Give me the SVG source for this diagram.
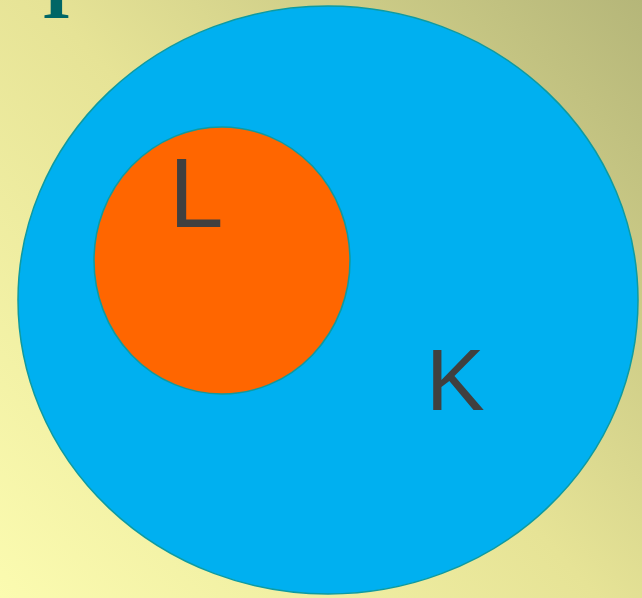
<svg xmlns="http://www.w3.org/2000/svg" width="642" height="598" viewBox="0 0 642 598">
  <defs>
    <linearGradient id="bg" gradientUnits="userSpaceOnUse" x1="0" y1="598" x2="642" y2="0">
      <stop offset="0" stop-color="#FBFBB0"/>
      <stop offset="0.5" stop-color="#E6E396"/>
      <stop offset="1" stop-color="#B5B679"/>
    </linearGradient>
    <style>
      .set { stroke: #0E9AA0; stroke-width: 1.5; }
      .lbl { font-family: "Liberation Sans", Arial, sans-serif; fill: #404040; }
    </style>
  </defs>
  <rect x="0" y="0" width="642" height="598" fill="url(#bg)"/>
  <text x="42" y="18" font-family="'Liberation Serif', 'Times New Roman', serif" font-weight="bold" font-size="74" fill="#006666">I</text>
  <g id="K">
    <ellipse class="set" cx="328" cy="300" rx="310" ry="294" fill="#00B0F0"/>
    <text class="lbl" x="426" y="410" font-size="88">K</text>
  </g>
  <g id="L">
    <ellipse class="set" cx="222" cy="260.5" rx="128" ry="133.5" fill="#FF6600"/>
    <text class="lbl" x="169" y="227" font-size="98">L</text>
  </g>
  <g id="connectors"/>
</svg>
